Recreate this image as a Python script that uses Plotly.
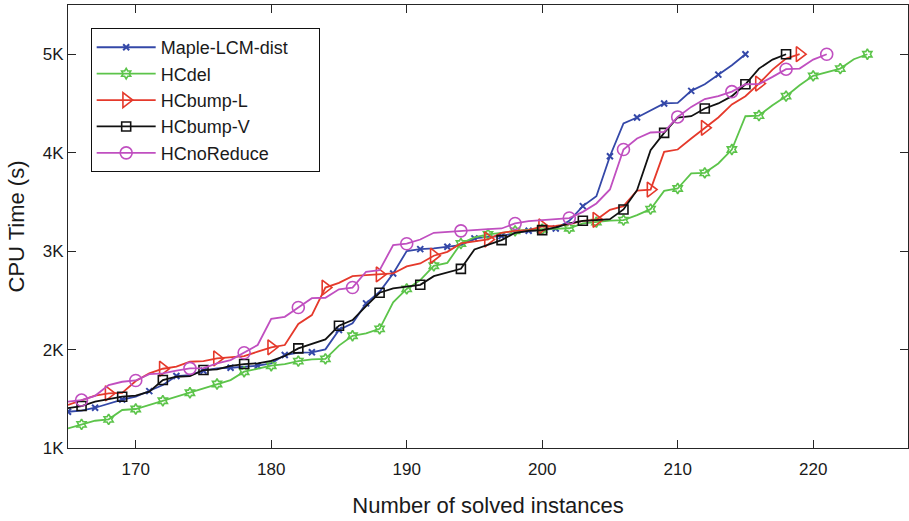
import plotly.graph_objects as go

# ---- data ----
maple_x = list(range(165, 216))
maple_y = [1368, 1380, 1409, 1447, 1492, 1521, 1578, 1640, 1731, 1741, 1785, 1809, 1815, 1826, 1836,
           1860, 1944, 1968, 1972, 2002, 2198, 2266, 2469, 2587, 2773, 3000, 3020, 3027, 3044, 3061,
           3129, 3145, 3152, 3186, 3206, 3213, 3230, 3307, 3457, 3558, 3964, 4296, 4357, 4425, 4500,
           4506, 4628, 4695, 4793, 4888, 5000]
maple_marks = list(range(165, 216, 2))

hcdel_x = list(range(165, 225))
hcdel_y = [1200, 1240, 1277, 1291, 1386, 1396, 1437, 1480, 1521, 1561, 1606, 1650, 1690, 1775, 1802,
           1836, 1853, 1883, 1900, 1905, 2040, 2140, 2164, 2210, 2480, 2616, 2705, 2851, 2881, 3077,
           3139, 3169, 3186, 3206, 3218, 3222, 3226, 3232, 3281, 3295, 3310, 3315, 3365, 3426, 3612,
           3636, 3789, 3795, 3890, 4032, 4370, 4377, 4482, 4574, 4685, 4780, 4814, 4854, 4949, 5000]
hcdel_marks = list(range(166, 225, 2))

bumpl_x = list(range(165, 220))
bumpl_y = [1437, 1487, 1531, 1555, 1560, 1680, 1758, 1805, 1826, 1876, 1883, 1910, 1921, 1934, 1978,
           2023, 2046, 2260, 2350, 2630, 2678, 2746, 2756, 2763, 2773, 2845, 2875, 2953, 2993, 3078,
           3095, 3118, 3186, 3206, 3213, 3250, 3255, 3274, 3308, 3318, 3420, 3457, 3615, 3625, 4008,
           4032, 4144, 4252, 4357, 4490, 4574, 4702, 4844, 4956, 5000]
bumpl_marks = list(range(168, 217, 4)) + [219]

bumpv_x = list(range(165, 219))
bumpv_y = [1405, 1426, 1470, 1494, 1521, 1531, 1572, 1690, 1724, 1730, 1792, 1799, 1835, 1853, 1860,
           1886, 1934, 2012, 2056, 2103, 2242, 2300, 2442, 2577, 2621, 2640, 2658, 2746, 2780, 2820,
           3017, 3068, 3112, 3186, 3206, 3213, 3240, 3281, 3308, 3315, 3325, 3423, 3619, 4025, 4201,
           4357, 4370, 4449, 4500, 4574, 4695, 4854, 4946, 5000]
bumpv_marks = [166, 169, 172, 175, 178] + list(range(182, 219, 3))

noreduce_x = list(range(165, 222))
noreduce_y = [1470, 1487, 1530, 1640, 1673, 1686, 1751, 1758, 1785, 1809, 1812, 1860, 1893, 1968, 2046,
              2313, 2333, 2427, 2522, 2526, 2612, 2630, 2790, 2807, 3061, 3075, 3118, 3186, 3196, 3206,
              3220, 3223, 3230, 3281, 3305, 3315, 3322, 3336, 3399, 3484, 3626, 4032, 4144, 4205, 4211,
              4363, 4465, 4545, 4574, 4620, 4695, 4697, 4770, 4848, 4854, 4946, 5000]
noreduce_marks = list(range(166, 219, 4)) + [221]

x_ticks = [170, 180, 190, 200, 210, 220]
y_ticks = [1000, 2000, 3000, 4000, 5000]
y_tick_text = ["1K", "2K", "3K", "4K", "5K"]

FONT = "Liberation Sans, Arial, Helvetica, sans-serif"
PAD = "\u00a0" * 5  # right padding inside legend box

series = [
    ("Maple-LCM-dist" + PAD, maple_x, maple_y, maple_marks, "#3448a8", dict(symbol="x-thin-open", size=6, line=dict(width=2, color="#3448a8"))),
    ("HCdel", hcdel_x, hcdel_y, hcdel_marks, "#5cc44a", dict(symbol="hexagram-open", size=8, line=dict(width=1.6, color="#5cc44a"))),
    ("HCbump-L", bumpl_x, bumpl_y, bumpl_marks, "#e5392b", dict(symbol="triangle-right-open", size=13, line=dict(width=1.6, color="#e5392b"))),
    ("HCbump-V", bumpv_x, bumpv_y, bumpv_marks, "#111111", dict(symbol="square-open", size=9, line=dict(width=1.6, color="#111111"))),
    ("HCnoReduce", noreduce_x, noreduce_y, noreduce_marks, "#c04fc0", dict(symbol="circle-open", size=12, line=dict(width=1.6, color="#c04fc0"))),
]

fig = go.Figure()
for name, xs, ys, marks, color, mk in series:
    lookup = dict(zip(xs, ys))
    fig.add_trace(go.Scatter(x=xs, y=ys, mode="lines", line=dict(color=color, width=1.8),
                             showlegend=False, hoverinfo="skip"))
    fig.add_trace(go.Scatter(x=marks, y=[lookup[m] for m in marks], mode="markers",
                             marker=dict(color=color, **mk), showlegend=False))
for name, xs, ys, marks, color, mk in series:
    fig.add_trace(go.Scatter(x=[None], y=[None], mode="lines+markers", name=name,
                             line=dict(color=color, width=1.8), marker=dict(color=color, **mk)))

axis_common = dict(showline=True, linecolor="#262626", linewidth=1.2, mirror="ticks",
                   ticks="inside", ticklen=8, tickwidth=1.2, tickcolor="#262626",
                   showgrid=False, zeroline=False, automargin=False,
                   tickfont=dict(family=FONT, size=17, color="#1a1a1a"))

fig.update_layout(
    width=909, height=521,
    margin=dict(l=68, r=1, t=5, b=73),
    paper_bgcolor="white", plot_bgcolor="white",
    font=dict(family=FONT, color="#1a1a1a"),
    xaxis=dict(range=[165, 227], tickvals=x_ticks, ticklabelstandoff=5,
               title=dict(text="Number of solved instances", font=dict(family=FONT, size=22), standoff=20),
               **axis_common),
    yaxis=dict(range=[1000, 5500], tickvals=y_ticks, ticktext=y_tick_text, ticklabelstandoff=0,
               title=dict(text="CPU Time (s)", font=dict(family=FONT, size=22), standoff=12),
               **axis_common),
    legend=dict(x=0.027, y=0.948, xanchor="left", yanchor="top",
                bgcolor="white", bordercolor="#111111", borderwidth=1,
                font=dict(family=FONT, size=18, color="#1a1a1a"),
                tracegroupgap=0, itemwidth=59),
)

fig.write_html("out.html", config={"displayModeBar": False},
               post_script="document.body.style.margin='0px';")
